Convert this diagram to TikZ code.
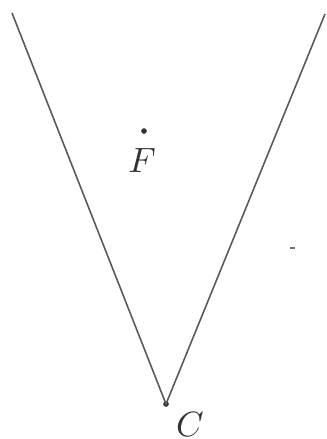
\documentclass[tikz,border=0pt]{standalone}
\usetikzlibrary{positioning}

\begin{document}
\begin{tikzpicture}[x=0.01cm, y=-0.01cm,
  side/.style={draw=black!65, line width=0.45pt},
  pt/.style={circle, fill=black!80, inner sep=0pt, minimum size=1.6pt},
  lbl/.style={inner sep=0pt, font=\normalsize, text=black!80}
]
  \useasboundingbox (0,0) rectangle (326,439);

  \coordinate (tl) at (12,13);
  \coordinate (tr) at (325,14);
  \node[pt] (apex) at (166,404) {};
  \node[pt] (foc) at (144,131) {};

  \draw[side] (tl) -- (apex.center) -- (tr);

  \node[lbl] (flbl) at (142,160) {$F$};
  \node[lbl] (clbl) at (190,424) {$C$};

  % speck on the scan
  \coordinate (sp) at (290,248);
  \draw[black!55, line width=0.8pt] (sp) -- ++(5,0);
\end{tikzpicture}
\end{document}
